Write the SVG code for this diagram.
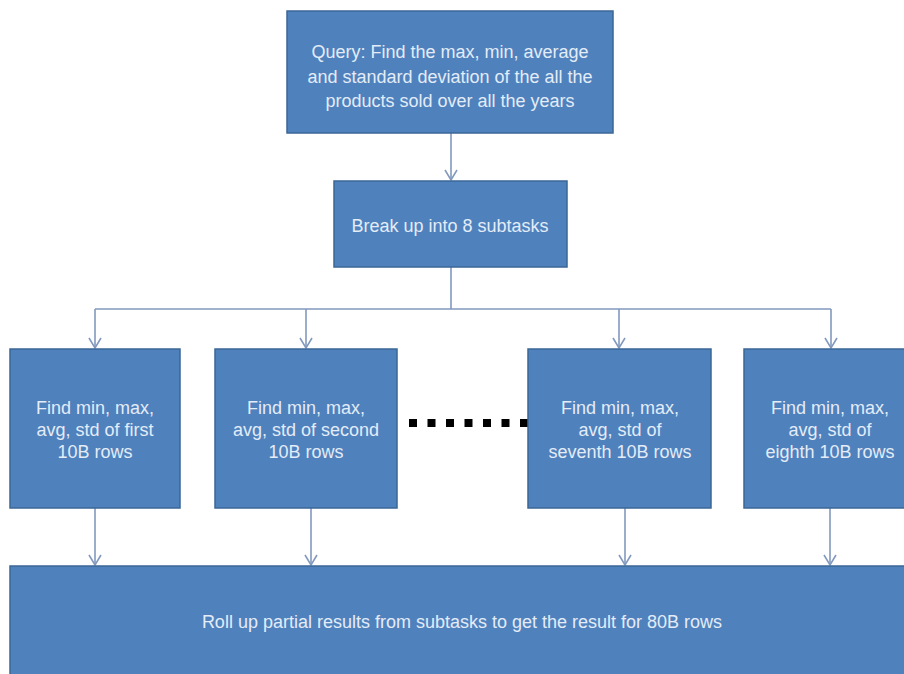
<svg xmlns="http://www.w3.org/2000/svg" width="904" height="674" viewBox="0 0 904 674">
<style>
.box{fill:#4f81bd;stroke:#3b6796;stroke-width:1.5}
.t{font-family:"Liberation Sans",Arial,sans-serif;font-size:18px;fill:#e3ecf7;text-anchor:middle}
.c{fill:none;stroke:#8299be;stroke-width:1.6}
.a{marker-end:url(#arr)}
</style>
<defs>
<marker id="arr" markerUnits="userSpaceOnUse" markerWidth="14" markerHeight="16" viewBox="0 0 14 16" refX="12" refY="8" orient="auto">
<path d="M2,2 L12,8 L2,14" fill="none" stroke="#8299be" stroke-width="1.6"/>
</marker>
</defs>
<rect width="904" height="674" fill="#ffffff"/>
<g id="connectors">
<path class="c a" d="M451,133 V180"/>
<path class="c" d="M451,267 V309 M95,309 H831"/>
<path class="c a" d="M95,309 V348"/>
<path class="c a" d="M306,309 V348"/>
<path class="c a" d="M619,309 V348"/>
<path class="c a" d="M831,309 V348"/>
<path class="c a" d="M95,508 V565"/>
<path class="c a" d="M311,508 V565"/>
<path class="c a" d="M625,508 V565"/>
<path class="c a" d="M830,508 V565"/>
<line x1="409" y1="423" x2="528" y2="423" stroke="#000" stroke-width="8" stroke-dasharray="8 10.5"/>
</g>
<g id="query">
<rect class="box" x="287" y="11" width="326" height="122"/>
<text class="t" x="450" y="58">Query: Find the max, min, average</text>
<text class="t" x="450" y="83">and standard deviation of the all the</text>
<text class="t" x="450" y="107">products sold over all the years</text>
</g>
<g id="breakup">
<rect class="box" x="334" y="181" width="233" height="86"/>
<text class="t" x="450" y="232">Break up into 8 subtasks</text>
</g>
<g id="sub1">
<rect class="box" x="10" y="349" width="170" height="159"/>
<text class="t" x="95" y="414">Find min, max,</text>
<text class="t" x="95" y="436">avg, std of first</text>
<text class="t" x="95" y="458">10B rows</text>
</g>
<g id="sub2">
<rect class="box" x="215" y="349" width="182" height="159"/>
<text class="t" x="306" y="414">Find min, max,</text>
<text class="t" x="306" y="436">avg, std of second</text>
<text class="t" x="306" y="458">10B rows</text>
</g>
<g id="sub7">
<rect class="box" x="528" y="349" width="183" height="159"/>
<text class="t" x="620" y="414">Find min, max,</text>
<text class="t" x="620" y="436">avg, std of</text>
<text class="t" x="620" y="458">seventh 10B rows</text>
</g>
<g id="sub8">
<rect class="box" x="744" y="349" width="170" height="159"/>
<text class="t" x="830" y="414">Find min, max,</text>
<text class="t" x="830" y="436">avg, std of</text>
<text class="t" x="830" y="458">eighth 10B rows</text>
</g>
<g id="rollup">
<rect class="box" x="10" y="566" width="904" height="120"/>
<text class="t" x="462" y="628">Roll up partial results from subtasks to get the result for 80B rows</text>
</g>
</svg>
